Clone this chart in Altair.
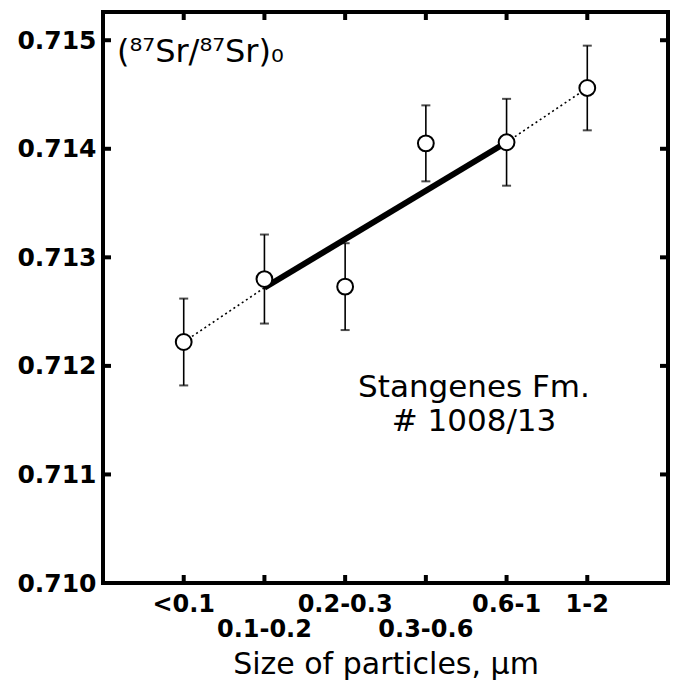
import altair as alt
import pandas as pd

# Particle-size fractions and their initial Sr isotope ratios
sizes = ["<0.1", "0.1-0.2", "0.2-0.3", "0.3-0.6", "0.6-1", "1-2"]
positions = [1, 2, 3, 4, 5, 6]
label_rows = [0, 1, 0, 1, 0, 0]
ratio = [0.71222, 0.71280, 0.71273, 0.71405, 0.71406, 0.71456]
err = [0.00040, 0.00041, 0.00040, 0.00035, 0.00040, 0.00039]

# Fitted trend (solid) and its extension to the outer fractions (dotted)
fit_x = [2, 5]
fit_y = [0.71272, 0.71406]
ext_seg = ["a", "a", "b", "b"]
ext_x = [1, 2, 5, 6]
ext_y = [0.71222, 0.71272, 0.71406, 0.71456]

y_ticks = [0.710, 0.711, 0.712, 0.713, 0.714, 0.715]
y_inner_ticks = [0.711, 0.712, 0.713, 0.714, 0.715]

W, H = 565, 571
FONT = "DejaVu Sans"

pts = pd.DataFrame({"size": sizes, "pos": positions, "row": label_rows,
                    "ratio": ratio, "err": err})
pts["lo"] = pts["ratio"] - pts["err"]
pts["hi"] = pts["ratio"] + pts["err"]
fit = pd.DataFrame({"pos": fit_x, "ratio": fit_y})
ext = pd.DataFrame({"seg": ext_seg, "pos": ext_x, "ratio": ext_y})
yt = pd.DataFrame({"v": y_inner_ticks})
xt = pd.DataFrame({"pos": positions})

xs = alt.Scale(domain=[0, 7], nice=False, zero=False)
ys = alt.Scale(domain=[0.710, 0.71526], nice=False, zero=False)

x_axis = alt.Axis(labels=False, ticks=False, domain=False, grid=False,
                  title="Size of particles, µm", titleFont=FONT,
                  titleFontSize=30, titleFontWeight="normal",
                  titlePadding=66, titleColor="black")
y_axis = alt.Axis(values=y_ticks, format=".3f", ticks=False, domain=False,
                  grid=False, title=None, labelFont=FONT, labelFontSize=25,
                  labelFontWeight="bold", labelColor="black", labelPadding=7)

base = alt.Chart(pts)

ext_line = alt.Chart(ext).mark_line(color="black", strokeWidth=1.6,
                                    strokeDash=[2, 3]).encode(
    x=alt.X("pos:Q", scale=xs, axis=x_axis),
    y=alt.Y("ratio:Q", scale=ys, axis=y_axis),
    detail="seg:N",
)

fit_line = alt.Chart(fit).mark_line(color="black", strokeWidth=6).encode(
    x=alt.X("pos:Q", scale=xs),
    y=alt.Y("ratio:Q", scale=ys),
)

bars = base.mark_rule(color="black", strokeWidth=1.6).encode(
    x=alt.X("pos:Q", scale=xs),
    y=alt.Y("lo:Q", scale=ys),
    y2="hi:Q",
)
cap_lo = base.mark_tick(color="black", orient="horizontal", size=9,
                        thickness=2).encode(
    x=alt.X("pos:Q", scale=xs), y=alt.Y("lo:Q", scale=ys))
cap_hi = base.mark_tick(color="black", orient="horizontal", size=9,
                        thickness=2).encode(
    x=alt.X("pos:Q", scale=xs), y=alt.Y("hi:Q", scale=ys))

circles = base.mark_point(shape="circle", filled=False, fill="white",
                          fillOpacity=1, stroke="black", strokeWidth=2,
                          size=250, opacity=1).encode(
    x=alt.X("pos:Q", scale=xs),
    y=alt.Y("ratio:Q", scale=ys),
)

# Inward ticks on all four sides of the frame
tick_style = dict(color="black", strokeWidth=4)
left_t = alt.Chart(yt).mark_rule(**tick_style).encode(
    y=alt.Y("v:Q", scale=ys), x=alt.value(0), x2=alt.value(8))
right_t = alt.Chart(yt).mark_rule(**tick_style).encode(
    y=alt.Y("v:Q", scale=ys), x=alt.value(W - 8), x2=alt.value(W))
top_t = alt.Chart(xt).mark_rule(**tick_style).encode(
    x=alt.X("pos:Q", scale=xs), y=alt.value(0), y2=alt.value(8))
bottom_t = alt.Chart(xt).mark_rule(**tick_style).encode(
    x=alt.X("pos:Q", scale=xs), y=alt.value(H - 8), y2=alt.value(H))

# Staggered size-class labels under the frame
row0 = base.transform_filter("datum.row == 0").mark_text(
    font=FONT, fontSize=24, fontWeight="bold", color="black",
    baseline="middle", dy=34).encode(
    x=alt.X("pos:Q", scale=xs), y=alt.value(H - 12), text="size:N")
row1 = base.transform_filter("datum.row == 1").mark_text(
    font=FONT, fontSize=24, fontWeight="bold", color="black",
    baseline="middle", dy=59).encode(
    x=alt.X("pos:Q", scale=xs), y=alt.value(H - 12), text="size:N")

ylabel = alt.Chart(pd.DataFrame({"t": ["(⁸⁷Sr/⁸⁷Sr)₀"]})).mark_text(
    font=FONT, fontSize=32, color="black", align="left",
    baseline="alphabetic").encode(
    x=alt.value(14), y=alt.value(50), text="t:N")

# Sample annotation, two lines
note_style = dict(font=FONT, fontSize=31, color="black", align="center",
                  baseline="alphabetic")
note1 = alt.Chart(pd.DataFrame({"t": ["Stangenes Fm."]})).mark_text(
    **note_style).encode(x=alt.value(371), y=alt.value(385), text="t:N")
note2 = alt.Chart(pd.DataFrame({"t": ["# 1008/13"]})).mark_text(
    **note_style).encode(x=alt.value(371), y=alt.value(419), text="t:N")

chart = alt.layer(
    ext_line, fit_line, bars, cap_lo, cap_hi, circles,
    left_t, right_t, top_t, bottom_t, row0, row1, ylabel, note1, note2,
).properties(
    width=W, height=H,
    autosize=alt.AutoSizeParams(type="none"),
    padding={"left": 103, "top": 12, "right": 14, "bottom": 105},
    background="white",
).configure_view(stroke="black", strokeWidth=4)

chart.save("out.html", embed_options={"renderer": "svg", "actions": False})
